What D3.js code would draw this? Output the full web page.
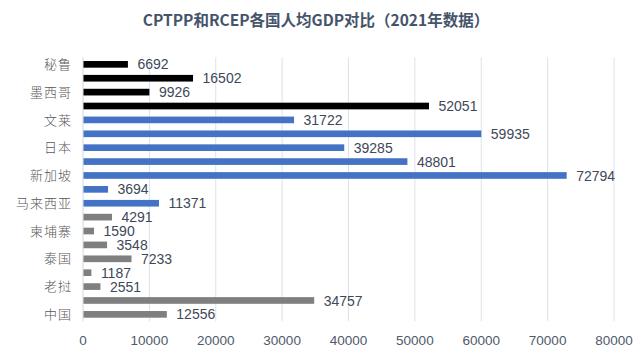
<!DOCTYPE html>
<html>
<head>
<meta charset="utf-8">
<script src="https://cdn.jsdelivr.net/npm/d3@7"></script>
<style>
  body { margin: 0; background: #fff; }
  svg { display: block; }
</style>
</head>
<body>
<div id="chart"></div>
<script>
// categories top to bottom, with 2021 GDP per capita (USD)
const countries = ["秘鲁", "智利", "墨西哥", "加拿大", "文莱", "澳大利亚", "日本", "新西兰",
  "新加坡", "越南", "马来西亚", "印度尼西亚", "柬埔寨", "菲律宾", "泰国", "缅甸", "老挝", "韩国", "中国"];
const gdpPerCapita = [6692, 16502, 9926, 52051, 31722, 59935, 39285, 48801,
  72794, 3694, 11371, 4291, 1590, 3548, 7233, 1187, 2551, 34757, 12556];
// group: cptpp only / both / rcep only
const groups = ["cptpp", "cptpp", "cptpp", "cptpp", "both", "both", "both", "both",
  "both", "both", "both", "rcep", "rcep", "rcep", "rcep", "rcep", "rcep", "rcep", "rcep"];
const xTicks = [0, 10000, 20000, 30000, 40000, 50000, 60000, 70000, 80000];

const width = 642, height = 361;
const marginLeft = 83, marginRight = 28, marginTop = 57.4, marginBottom = 39.7;

const colors = { cptpp: "#000000", both: "#4472C4", rcep: "#7F7F7F" };

const data = countries.map((c, i) => ({ name: c, value: gdpPerCapita[i], group: groups[i] }));

const svg = d3.select("#chart").append("svg")
  .attr("width", width)
  .attr("height", height);

const x = d3.scaleLinear().domain([0, 80000]).range([marginLeft, width - marginRight]);
const y = d3.scaleBand().domain(countries).range([marginTop, height - marginBottom]).paddingInner(0.52).paddingOuter(0.26);

// title
svg.append("text")
  .attr("x", 316)
  .attr("y", 26)
  .attr("text-anchor", "middle")
  .attr("font-family", "'Noto Sans CJK SC', sans-serif")
  .attr("font-weight", "bold")
  .attr("font-size", 15.5)
  .attr("fill", "#44546A")
  .text("CPTPP和RCEP各国人均GDP对比（2021年数据）");

// gridlines
svg.append("g")
  .selectAll("line")
  .data(xTicks)
  .join("line")
  .attr("x1", d => x(d)).attr("x2", d => x(d))
  .attr("y1", marginTop).attr("y2", height - marginBottom)
  .attr("stroke", (d) => d === 0 ? "#D0D7E2" : "#DCE2EA")
  .attr("stroke-width", 1);

// x tick labels
svg.append("g")
  .selectAll("text")
  .data(xTicks)
  .join("text")
  .attr("x", d => x(d))
  .attr("y", 345)
  .attr("text-anchor", "middle")
  .attr("font-family", "'Liberation Sans', Arial, sans-serif")
  .attr("font-size", 13.5)
  .attr("fill", "#4F5A6A")
  .text(d => d);

// bars
svg.append("g")
  .selectAll("rect")
  .data(data)
  .join("rect")
  .attr("x", x(0) + 0.5)
  .attr("y", d => y(d.name))
  .attr("width", d => x(d.value) - x(0))
  .attr("height", y.bandwidth())
  .attr("fill", d => colors[d.group]);

// value labels
svg.append("g")
  .selectAll("text")
  .data(data)
  .join("text")
  .attr("x", d => x(d.value) + 10)
  .attr("y", d => y(d.name) + y.bandwidth() / 2)
  .attr("dy", "0.36em")
  .attr("font-family", "'Liberation Sans', Arial, sans-serif")
  .attr("font-size", 14)
  .attr("fill", "#404858")
  .text(d => d.value);

// category labels (every other one shown)
svg.append("g")
  .selectAll("text")
  .data(data.filter((d, i) => i % 2 === 0))
  .join("text")
  .attr("x", 72)
  .attr("y", d => y(d.name) + y.bandwidth() / 2)
  .attr("dy", "0.36em")
  .attr("text-anchor", "end")
  .attr("font-family", "'Noto Sans CJK SC', sans-serif")
  .attr("font-size", 13)
  .attr("font-weight", 300)
  .attr("fill", "#595959")
  .attr("letter-spacing", 1)
  .text(d => d.name);
</script>
</body>
</html>
